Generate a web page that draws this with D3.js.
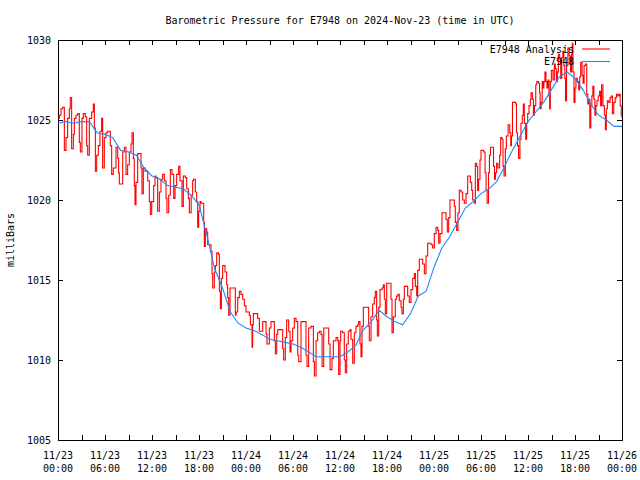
<!DOCTYPE html>
<html>
<head>
<meta charset="utf-8">
<script src="https://cdn.jsdelivr.net/npm/d3@7"></script>
<style>
  body { margin: 0; background: #fff; }
  svg { display: block; }
  text { font-family: "DejaVu Sans Mono", "Liberation Mono", monospace; font-size: 10px; fill: #000; }
</style>
</head>
<body>
<script>
// ---- Data ----
const titleText = "Barometric Pressure for E7948 on 2024-Nov-23 (time in UTC)";
const yLabel = "milliBars";
const seriesNames = ["E7948 Analysis", "E7948"];
const startTime = Date.UTC(2024, 10, 23, 0, 0);
const endTime = Date.UTC(2024, 10, 26, 0, 0);
const yTicks = [1005, 1010, 1015, 1020, 1025, 1030];

// Red series: hours since 11/23 00:00 UTC, pressure (mb)
const redHours = [
  0.00,0.17,0.38,0.60,0.81,1.02,1.23,1.45,1.57,1.74,1.96,2.09,2.30,2.51,2.72,2.85,3.06,3.23,3.49,3.66,3.79,
  4.00,4.30,4.51,4.64,4.77,4.94,5.15,5.36,5.57,5.70,5.91,6.13,6.34,6.55,6.68,6.85,7.06,7.40,7.62,7.74,7.83,
  8.04,8.26,8.47,8.68,8.89,9.11,9.32,9.45,9.62,9.74,9.83,9.96,10.17,10.38,10.60,10.72,10.89,11.11,11.23,11.45,
  11.66,11.79,11.96,12.21,12.38,12.51,12.72,12.94,13.15,13.36,13.57,13.79,13.91,14.13,14.34,14.55,14.77,14.94,
  15.15,15.40,15.57,15.83,16.00,16.26,16.43,16.64,16.77,17.00,17.19,17.32,17.53,17.70,17.83,17.96,18.13,
  18.26,18.47,18.60,18.68,18.81,18.98,19.11,19.32,19.53,19.66,19.75,19.96,20.09,20.26,20.47,20.60,20.73,20.85,
  21.02,21.32,21.53,21.66,21.79,21.96,22.30,22.51,22.64,22.73,22.94,23.15,23.36,23.58,23.79,24.00,24.22,24.43,
  24.56,24.77,24.85,24.94,25.28,25.49,25.71,25.92,26.13,26.34,26.56,26.68,26.98,27.19,27.41,27.62,27.75,27.92,
  28.05,28.47,28.68,28.81,29.02,29.19,29.45,29.62,29.75,29.96,30.17,30.39,30.60,30.73,31.02,31.24,31.45,31.66,
  31.79,32.00,32.30,32.51,32.60,32.73,32.94,33.15,33.37,33.58,33.71,33.92,34.13,34.43,34.56,34.73,34.98,35.15,
  35.49,35.71,35.83,36.00,36.09,36.34,36.55,36.68,36.85,37.06,37.28,37.40,37.62,37.83,38.04,38.26,38.38,38.55,
  38.68,38.81,38.98,39.32,39.53,39.66,39.74,39.96,40.17,40.38,40.51,40.68,40.77,40.94,41.11,41.36,41.53,41.66,
  41.79,41.96,42.21,42.38,42.51,42.64,42.81,43.06,43.23,43.40,43.57,43.79,43.91,44.09,44.21,44.43,44.64,44.85,
  45.06,45.28,45.49,45.62,45.79,45.92,46.13,46.34,46.55,46.77,46.98,47.19,47.40,47.62,47.83,48.04,48.26,48.47,
  48.60,48.77,49.02,49.32,49.53,49.70,49.87,50.04,50.38,50.60,50.72,50.89,51.06,51.23,51.45,51.66,51.87,52.09,
  52.30,52.51,52.64,52.81,52.94,53.15,53.28,53.45,53.57,53.70,53.87,54.00,54.35,54.52,54.65,54.78,54.96,55.08,
  55.21,55.43,55.60,55.73,55.86,55.99,56.16,56.38,56.51,56.68,56.81,56.94,57.11,57.24,57.46,57.67,57.80,57.89,
  58.02,58.23,58.45,58.53,58.66,58.79,58.97,59.10,59.27,59.40,59.53,59.70,59.83,59.96,60.13,60.30,60.39,60.56,
  60.69,60.82,60.99,61.12,61.34,61.47,61.55,61.68,61.81,61.94,62.03,62.16,62.29,62.42,62.55,62.67,62.76,62.85,
  62.98,63.19,63.36,63.49,63.62,63.75,63.88,64.05,64.18,64.31,64.44,64.57,64.70,64.79,64.92,65.09,65.26,65.43,
  65.56,65.65,65.74,65.87,66.00,66.12,66.30,66.47,66.60,66.73,66.90,67.03,67.16,67.33,67.50,67.63,67.76,67.89,
  68.02,68.15,68.28,68.41,68.54,68.67,68.80,68.97,69.14,69.27,69.40,69.57,69.75,69.88,70.00,70.13,70.31,70.48,
  70.61,70.78,70.95,71.13,71.30,71.47,71.64,71.77,71.90,72.00
];
const redValues = [
  1025.1,1025.3,1025.7,1025.8,1023.1,1023.9,1025.1,1025.7,1026.4,1023.2,1024.1,1025.1,1025.3,1025.4,1023.6,1023.0,1025.1,1025.4,1025.2,1023.4,1022.8,
  1025.1,1025.5,1026.0,1024.5,1021.8,1022.8,1023.4,1024.3,1025.1,1022.0,1023.9,1024.2,1024.3,1024.3,1023.4,1021.6,1022.0,1023.3,1022.6,1021.7,1021.0,
  1021.0,1023.0,1023.3,1021.6,1022.2,1023.0,1023.5,1024.2,1022.6,1020.9,1019.7,1021.1,1022.9,1022.9,1022.0,1020.4,1022.0,1021.8,1021.8,1021.2,
  1019.9,1019.1,1019.9,1020.9,1021.5,1021.4,1019.3,1020.5,1021.3,1021.6,1021.2,1020.1,1019.2,1020.3,1021.9,1021.6,1020.1,1020.9,
  1021.6,1022.1,1021.2,1019.6,1021.5,1021.4,1020.7,1020.1,1019.2,1020.3,1021.2,1021.3,1020.5,1019.9,1018.3,1019.3,1019.9,
  1019.8,1019.8,1018.6,1017.1,1018.2,1018.0,1017.2,1017.2,1016.8,1015.4,1014.5,1015.5,1015.9,1016.7,1016.6,1014.3,1013.2,1015.1,
  1015.9,1015.5,1014.7,1013.9,1012.8,1014.5,1014.5,1014.5,1012.8,1013.0,1013.9,1014.3,1014.1,1013.8,1013.4,1013.0,1013.0,1012.8,
  1012.2,1010.8,1012.2,1012.9,1012.9,1012.6,1011.8,1011.8,1012.4,1012.4,1011.6,1011.0,1012.0,1012.4,1012.4,1011.2,1010.4,1011.6,
  1011.9,1011.9,1010.7,1010.0,1011.4,1012.5,1011.8,1010.5,1011.2,1012.0,1012.6,1012.4,1010.3,1009.9,1012.4,1012.4,1012.4,1010.3,
  1009.6,1012.0,1012.1,1012.1,1009.9,1009.0,1011.2,1011.7,1011.8,1011.6,1009.6,1012.0,1012.0,1012.0,1011.0,1009.4,1010.1,1011.2,
  1011.4,1011.2,1009.1,1011.2,1011.8,1011.7,1010.0,1009.2,1011.0,1011.8,1011.9,1011.3,1009.8,1011.7,1012.1,1012.2,1012.4,1011.0,
  1010.2,1012.1,1013.3,1013.3,1013.3,1012.1,1011.2,1012.7,1013.5,1013.9,1014.3,1012.5,1011.5,1013.3,1014.4,1014.5,1014.7,1013.8,
  1012.9,1014.8,1014.8,1014.8,1013.8,1011.7,1012.7,1013.8,1014.0,1014.1,1013.7,1013.3,1012.9,1013.8,1014.6,1014.6,1014.0,1013.6,
  1014.4,1015.1,1015.4,1014.6,1014.0,1015.6,1016.3,1016.3,1016.0,1015.4,1016.5,1017.3,1017.3,1017.2,1017.0,1017.9,1018.3,1018.1,
  1017.3,1017.9,1019.2,1019.2,1018.8,1018.0,1018.9,1020.0,1020.0,1019.6,1018.6,1018.1,1019.2,1020.6,1020.5,1020.0,1019.8,1020.4,
  1021.5,1021.5,1021.1,1020.6,1020.0,1019.8,1022.3,1022.1,1020.6,1021.3,1022.5,1023.1,1023.0,1021.7,1020.6,1019.8,1021.7,1022.8,
  1023.3,1023.3,1022.1,1021.3,1021.7,1022.3,1022.0,1022.8,1023.9,1023.8,1022.1,1021.5,1023.2,1024.0,1024.7,1024.2,1023.4,1024.0,
  1026.1,1026.1,1026.0,1024.2,1023.4,1022.6,1023.8,1024.8,1025.3,1026.0,1024.8,1023.8,1024.8,1025.4,1025.9,1026.3,1026.7,1026.3,
  1025.3,1025.9,1027.2,1027.4,1027.3,1026.7,1025.7,1026.1,1027.4,1027.0,1027.4,1028.0,1027.4,1027.0,1027.5,1026.5,1025.7,1027.4,
  1028.1,1027.5,1028.5,1028.2,1027.4,1028.0,1029.1,1028.8,1027.6,1028.9,1029.3,1028.4,1027.6,1026.2,1028.4,1029.5,1029.0,1028.0,
  1029.1,1029.8,1028.0,1026.1,1027.0,1027.6,1027.4,1026.9,1027.7,1028.6,1027.8,1027.3,1028.4,1028.5,1026.6,1026.0,1026.3,1024.5,
  1025.9,1026.5,1027.1,1026.3,1025.3,1025.9,1026.2,1026.5,1026.8,1025.9,1027.2,1025.9,1025.3,1024.4,1025.7,1026.2,1026.1,1026.4,
  1026.5,1025.4,1026.1,1026.4,1026.6,1026.5,1026.6,1025.9,1025.3,1025.1
];

// Blue series: hourly values, hours 0..72
const blueValues = [
  1024.8,1024.9,1024.8,1024.9,1024.9,1024.2,1024.1,1023.9,1023.1,1023.0,1022.8,1022.0,1021.5,1021.3,1020.9,1020.8,
  1020.7,1020.3,1019.7,1017.8,1015.7,1014.5,1013.0,1012.3,1012.0,1011.85,1011.6,1011.3,1011.2,1011.1,1011.0,1010.8,
  1010.5,1010.2,1010.2,1010.2,1010.2,1010.5,1010.9,1011.9,1012.4,1013.1,1012.7,1012.4,1012.2,1012.9,1014.0,1014.3,
  1015.8,1017.0,1017.7,1018.6,1019.5,1019.9,1020.4,1020.7,1021.15,1022.1,1023.1,1024.0,1024.9,1025.5,1026.1,1026.9,
  1027.7,1028.0,1027.6,1026.9,1026.0,1025.3,1025.0,1024.6,1024.6
];

// ---- Chart ----
const W = 640, H = 480;
const m = { left: 58, right: 622, top: 40, bottom: 440 };
const HOUR = 3600 * 1000;

const svg = d3.select("body").append("svg").attr("width", W).attr("height", H);

const x = d3.scaleUtc().domain([new Date(startTime), new Date(endTime)]).range([m.left, m.right]);
const y = d3.scaleLinear().domain([1005, 1030]).range([m.bottom, m.top]);

const redData = redHours.map((h, i) => ({ t: new Date(startTime + h * HOUR), v: redValues[i] }));
const blueData = blueValues.map((v, i) => ({ t: new Date(startTime + i * HOUR), v }));

const xTickVals = d3.range(0, 73, 3).map(h => new Date(startTime + h * HOUR));
const fmtDate = d3.utcFormat("%m/%d");
const fmtTime = d3.utcFormat("%H:%M");

// clip
svg.append("clipPath").attr("id", "clip").append("rect")
  .attr("x", m.left).attr("y", m.top).attr("width", m.right - m.left).attr("height", m.bottom - m.top);

// axes (ticks inward, mirrored)
const axB = svg.append("g").attr("transform", `translate(0,${m.bottom})`)
  .call(d3.axisBottom(x).tickValues(xTickVals).tickSize(-5).tickSizeOuter(0).tickFormat(""));
const axT = svg.append("g").attr("transform", `translate(0,${m.top})`)
  .call(d3.axisTop(x).tickValues(xTickVals).tickSize(-5).tickSizeOuter(0).tickFormat(""));
const axL = svg.append("g").attr("transform", `translate(${m.left},0)`)
  .call(d3.axisLeft(y).tickValues(yTicks).tickSize(-5).tickSizeOuter(0).tickFormat(d3.format("d")));
const axR = svg.append("g").attr("transform", `translate(${m.right},0)`)
  .call(d3.axisRight(y).tickValues(yTicks).tickSize(-5).tickSizeOuter(0).tickFormat(""));

[axB, axT, axL, axR].forEach(g => {
  g.select(".domain").remove();
  g.selectAll(".tick line").attr("stroke", "#000").attr("shape-rendering", "crispEdges");
});
axL.selectAll(".tick text").attr("x", -7).attr("font-size", null).attr("font-family", null)
  .attr("dy", "0.35em").style("font-size", "10px");

// x labels (two lines, every 6h)
const xLabelVals = d3.range(0, 73, 6).map(h => new Date(startTime + h * HOUR));
const xl = svg.append("g");
xLabelVals.forEach(d => {
  const t = xl.append("text").attr("text-anchor", "middle");
  t.append("tspan").attr("x", x(d)).attr("y", 459).text(fmtDate(d));
  t.append("tspan").attr("x", x(d)).attr("y", 472).text(fmtTime(d));
});

// frame
svg.append("rect").attr("x", m.left + 0.5).attr("y", m.top + 0.5)
  .attr("width", m.right - m.left).attr("height", m.bottom - m.top)
  .attr("fill", "none").attr("stroke", "#000").attr("stroke-width", 1);

// lines
const lineRed = d3.line().x(d => x(d.t)).y(d => y(d.v)).curve(d3.curveStepAfter);
const lineBlue = d3.line().x(d => x(d.t)).y(d => y(d.v));

const plot = svg.append("g").attr("clip-path", "url(#clip)");
plot.append("path").datum(redData).attr("d", lineRed)
  .attr("fill", "none").attr("stroke", "#ff0000").attr("stroke-width", 1.1);
plot.append("path").datum(blueData).attr("d", lineBlue)
  .attr("fill", "none").attr("stroke", "#1e88ff").attr("stroke-width", 1.1);

// title
svg.append("text").attr("x", 340).attr("y", 24).attr("text-anchor", "middle").text(titleText);

// y label
svg.append("text").attr("transform", "translate(14,240) rotate(-90)").attr("text-anchor", "middle").text(yLabel);

// legend
const legColors = ["#ff0000", "#1e88ff"];
seriesNames.forEach((name, i) => {
  const ly = 49 + i * 12.5;
  svg.append("text").attr("x", 574).attr("y", ly).attr("dy", "0.35em").attr("text-anchor", "end").text(name);
  svg.append("line").attr("x1", 582).attr("x2", 610).attr("y1", ly).attr("y2", ly)
    .attr("stroke", legColors[i]).attr("stroke-width", 1.1);
});
</script>
</body>
</html>
